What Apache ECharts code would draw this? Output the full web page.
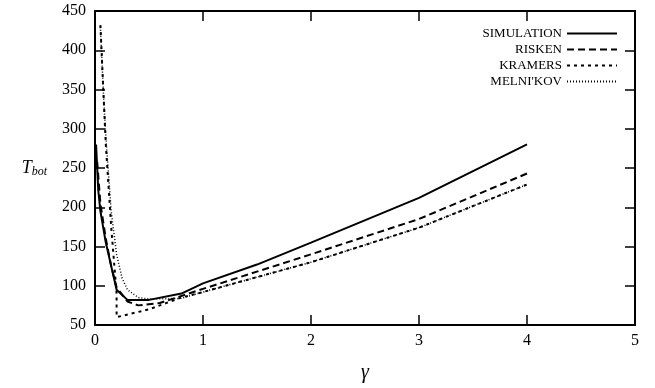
<!DOCTYPE html>
<html>
<head>
<meta charset="utf-8">
<script src="https://cdn.jsdelivr.net/npm/echarts@6/dist/echarts.min.js"></script>
<style>
  html, body { margin: 0; padding: 0; background: #fff; }
  #chart { width: 655px; height: 388px; }
</style>
</head>
<body>
<div id="chart"></div>
<script>
// values (gamma, T_bot)
const simGamma = [0.01, 0.03, 0.05, 0.1, 0.15, 0.2, 0.3, 0.5, 0.8, 1, 1.5, 2, 3, 4];
const simT = [280, 222, 195, 155, 125, 95, 82, 82, 90, 103, 127, 155, 212, 280];

const riskenGamma = [0.02, 0.05, 0.1, 0.15, 0.2, 0.3, 0.4, 0.6, 1, 2, 3, 4];
const riskenT = [258, 205, 160, 125, 98, 80, 75, 78, 96, 140, 185, 243];

const kramersGamma = [0.05, 0.08, 0.1, 0.15, 0.2, 0.2, 0.5, 0.8, 1, 2, 3, 4];
const kramersT = [432, 340, 280, 175, 90, 60, 70, 85, 92, 130, 174, 229];

const melnikovGamma = [0.05, 0.08, 0.1, 0.15, 0.2, 0.25, 0.3, 0.4, 0.5, 0.8, 1, 2, 3, 4];
const melnikovT = [430, 340, 290, 195, 140, 110, 95, 85, 83, 84, 92, 130, 174, 229];

const names = ["SIMULATION", "RISKEN", "KRAMERS", "MELNI'KOV"];

const pairs = (xs, ys) => xs.map((x, i) => [x, ys[i]]);

const chart = echarts.init(document.getElementById("chart"));
const font = "Liberation Serif";

// gnuplot-style frame: every axis line plus inward ticks, never snapped to zero
const baseAxis = {
  axisLine: { show: true, onZero: false, lineStyle: { color: "#000", width: 2 } },
  axisTick: { show: true, inside: true, length: 10, lineStyle: { color: "#000", width: 1.5 } },
  splitLine: { show: false },
};

const lineSeries = (name, xs, ys, type, width) => ({
  name,
  type: "line",
  data: pairs(xs, ys),
  symbol: "none",
  showSymbol: false,
  smooth: false,
  lineStyle: { color: "#000", width, type },
  itemStyle: { color: "#000" },
  xAxisIndex: 0,
  yAxisIndex: 0,
});

chart.setOption({
  animation: false,
  backgroundColor: "#fff",
  textStyle: { fontFamily: font },
  grid: { left: 95, right: 20, top: 11, bottom: 60 },
  legend: {
    orient: "vertical",
    right: 32,
    top: 22,
    align: "right",
    itemWidth: 50,
    itemHeight: 12,
    itemGap: 3,
    data: names,
    itemStyle: { opacity: 0 },
    textStyle: { fontFamily: font, fontSize: 13, color: "#000", width: 100, align: "right" },
  },
  xAxis: [
    Object.assign({}, baseAxis, {
      type: "value", min: 0, max: 5, interval: 1, position: "bottom",
      axisLabel: { color: "#000", fontSize: 16, fontFamily: font, margin: 8 },
      name: "γ", nameLocation: "middle", nameGap: 38,
      nameTextStyle: { fontFamily: font, fontStyle: "italic", fontSize: 20, color: "#000" },
    }),
    Object.assign({}, baseAxis, {
      type: "value", min: 0, max: 5, interval: 1, position: "top",
      axisLabel: { show: false },
    }),
  ],
  yAxis: [
    Object.assign({}, baseAxis, {
      type: "value", min: 50, max: 450, interval: 50, position: "left",
      axisLabel: { color: "#000", fontSize: 16, fontFamily: font, margin: 9 },
      name: "{t|T}{s|bot}", nameLocation: "middle", nameGap: 48, nameRotate: 0,
      nameTextStyle: {
        color: "#000",
        align: "right",
        rich: {
          t: { fontFamily: font, fontStyle: "italic", fontSize: 18, color: "#000" },
          s: { fontFamily: font, fontStyle: "italic", fontSize: 12, color: "#000", padding: [8, 0, 0, 0] },
        },
      },
    }),
    Object.assign({}, baseAxis, {
      type: "value", min: 50, max: 450, interval: 50, position: "right",
      axisLabel: { show: false },
    }),
  ],
  series: [
    lineSeries(names[0], simGamma, simT, "solid", 2),
    lineSeries(names[1], riskenGamma, riskenT, [7, 4], 2),
    lineSeries(names[2], kramersGamma, kramersT, [3, 4], 2),
    lineSeries(names[3], melnikovGamma, melnikovT, [1, 2], 1.5),
  ],
});
</script>
</body>
</html>
